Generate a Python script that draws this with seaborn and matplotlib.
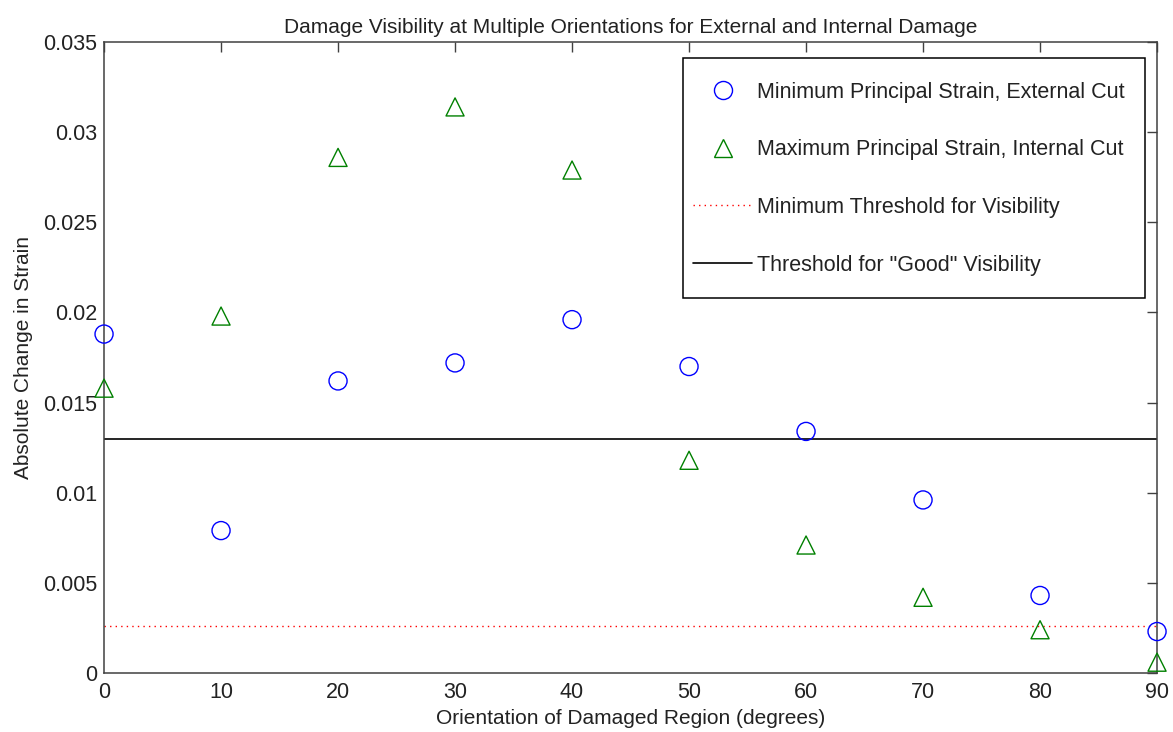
import matplotlib
matplotlib.use("Agg")
import matplotlib.pyplot as plt
from matplotlib.lines import Line2D
from matplotlib.patches import Rectangle
import seaborn as sns
import pandas as pd

# Orientation angles of the damaged region (degrees)
orientation = [0, 10, 20, 30, 40, 50, 60, 70, 80, 90]
# Minimum principal strain change, external cut
min_strain_external = [0.0188, 0.0079, 0.0162, 0.0172, 0.0196, 0.0170, 0.0134, 0.0096, 0.0043, 0.0023]
# Maximum principal strain change, internal cut
max_strain_internal = [0.0158, 0.0198, 0.0286, 0.0314, 0.0279, 0.0118, 0.0071, 0.0042, 0.0024, 0.0006]

min_threshold = 0.0026
good_threshold = 0.0130

x_ticks = [0, 10, 20, 30, 40, 50, 60, 70, 80, 90]
y_ticks = [0, 0.005, 0.01, 0.015, 0.02, 0.025, 0.03, 0.035]
y_tick_labels = ["0", "0.005", "0.01", "0.015", "0.02", "0.025", "0.03", "0.035"]

labels = ["Minimum Principal Strain, External Cut",
          "Maximum Principal Strain, Internal Cut",
          "Minimum Threshold for Visibility",
          'Threshold for "Good" Visibility']

sns.set_style("white")
plt.rcParams["font.family"] = ["Liberation Sans", "DejaVu Sans"]

TEXT = "#222222"
FS = 15

df_ext = pd.DataFrame({"angle": orientation, "strain": min_strain_external})
df_int = pd.DataFrame({"angle": orientation, "strain": max_strain_internal})

fig = plt.figure(figsize=(11.73, 7.32), dpi=100)
ax = fig.add_axes([0.0887, 0.0806, 0.8977, 0.862])

sns.scatterplot(data=df_ext, x="angle", y="strain", ax=ax, marker="o", s=169,
                facecolors="none", edgecolor="#0000ff", linewidth=1.0, clip_on=False, zorder=3)
sns.scatterplot(data=df_int, x="angle", y="strain", ax=ax, marker="^", s=169,
                facecolors="none", edgecolor="#008000", linewidth=1.0, clip_on=False, zorder=3)

ax.axhline(min_threshold, color="#ff0000", linestyle=(0, (1, 3)), linewidth=1.0, zorder=2)
ax.axhline(good_threshold, color="black", linestyle="-", linewidth=1.2, zorder=2)

ax.set_xlim(0, 90)
ax.set_ylim(0, 0.035)
ax.set_xticks(x_ticks)
ax.set_yticks(y_ticks)
ax.set_yticklabels(y_tick_labels)

ax.tick_params(direction="in", length=7, width=1.0, top=True, right=True,
               labelsize=FS + 0.5, labelcolor=TEXT, color="#404040", pad=5)
ax.tick_params(axis="x", pad=6.5)
for sp in ax.spines.values():
    sp.set_linewidth(1.1)
    sp.set_color("#404040")

ax.set_title("Damage Visibility at Multiple Orientations for External and Internal Damage",
             fontsize=FS, pad=6.5, color=TEXT)
ax.set_xlabel("Orientation of Damaged Region (degrees)", fontsize=FS, labelpad=4, color=TEXT)
ax.set_ylabel("Absolute Change in Strain", fontsize=FS, labelpad=7, color=TEXT)

# legend box
ax.add_patch(Rectangle((0.5496, 0.5948), 0.4393, 0.3794, transform=ax.transAxes,
                       facecolor="white", edgecolor="black", linewidth=1.1,
                       zorder=4, clip_on=False))

handles = [
    Line2D([], [], linestyle="none", marker="o", markersize=13, markerfacecolor="none",
           markeredgecolor="#0000ff", markeredgewidth=1.0),
    Line2D([], [], linestyle="none", marker="^", markersize=13, markerfacecolor="none",
           markeredgecolor="#008000", markeredgewidth=1.0),
    Line2D([], [], color="#ff0000", linestyle=(0, (1, 3)), linewidth=1.0),
    Line2D([], [], color="black", linestyle="-", linewidth=1.2),
]
leg = ax.legend(handles, labels, loc="center left", bbox_to_anchor=(0.5594, 0.7834),
                borderaxespad=0, borderpad=0, fontsize=FS + 0.5, labelspacing=1.7,
                handlelength=2.75, handletextpad=0.24, frameon=False)
leg.set_zorder(5)
for t in leg.get_texts():
    t.set_color(TEXT)

fig.savefig("out.png", dpi=100)
